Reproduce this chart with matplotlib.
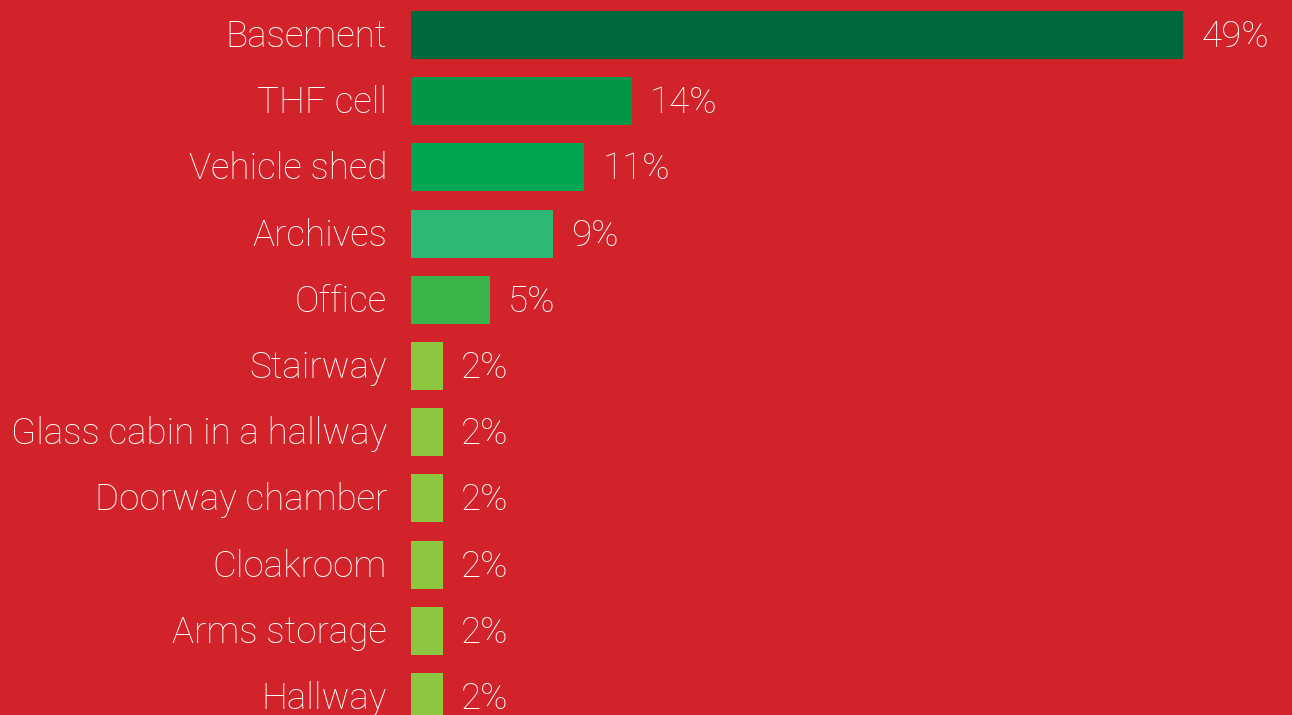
import matplotlib
matplotlib.use("Agg")
import matplotlib.pyplot as plt
from matplotlib.transforms import offset_copy

categories = ["Basement", "THF cell", "Vehicle shed", "Archives", "Office", "Stairway",
              "Glass cabin in a hallway", "Doorway chamber", "Cloakroom", "Arms storage", "Hallway"]
values = [49, 14, 11, 9, 5, 2, 2, 2, 2, 2, 2]
colors = ["#00693B", "#009646", "#00A651", "#2DB875", "#39B54A", "#8DC63F",
          "#8DC63F", "#8DC63F", "#8DC63F", "#8DC63F", "#8DC63F"]

BG = "#D2232A"
W, H = 1292, 715
fig = plt.figure(figsize=(W / 100, H / 100), dpi=100, facecolor=BG)
ax = fig.add_axes([411 / W, 0, 1 - 411 / W, 1])
ax.set_facecolor(BG)

px_per_unit = 15.76
row = 66.2
ypos = list(range(len(categories)))
ax.barh(ypos, values, height=48 / row, color=colors, align="center")
ax.set_xlim(0, (W - 411) / px_per_unit)
ax.set_ylim((H - 35) / row, -35 / row)
ax.axis("off")

font = dict(family=["Roboto", "DejaVu Sans"], fontweight="light", fontsize=26.5, color="white")
lab_tr = offset_copy(ax.transData, fig=fig, x=-24, y=-2, units="dots")
val_tr = offset_copy(ax.transData, fig=fig, x=18, y=-2, units="dots")
for y, c, v in zip(ypos, categories, values):
    ax.text(0, y, c, transform=lab_tr, ha="right", va="center", clip_on=False, **font)
    ax.text(v, y, f"{v}%", transform=val_tr, ha="left", va="center", clip_on=False, **font)

fig.savefig("out.png", dpi=100, facecolor=BG)
